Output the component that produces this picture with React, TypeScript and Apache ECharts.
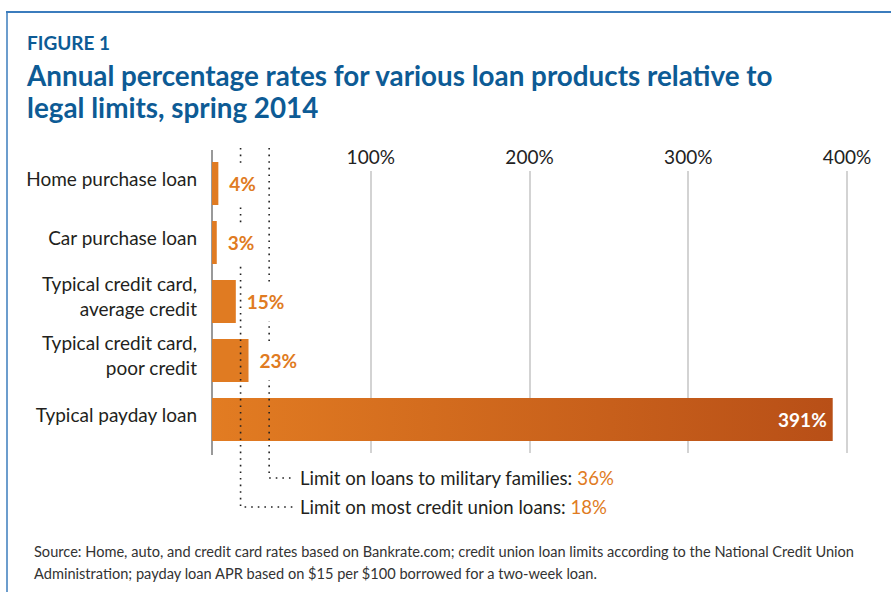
import React, { useEffect, useRef } from "react";
import * as echarts from "echarts";

const categories = [
  "Home purchase loan",
  "Car purchase loan",
  "Typical credit card,\naverage credit",
  "Typical credit card,\npoor credit",
  "Typical payday loan",
];
const aprValues = [4, 3, 15, 23, 391];
const tickValues = [100, 200, 300, 400];
const limitValues = [36, 18];
const limitTexts = ["Limit on loans to military families: ", "Limit on most credit union loans: "];
const limitLabels = ["36%", "18%"];
const figureLabel = "FIGURE 1";
const titleLines = [
  "Annual percentage rates for various loan products relative to",
  "legal limits, spring 2014",
];
const sourceLines = [
  "Source: Home, auto, and credit card rates based on Bankrate.com; credit union loan limits according to the National Credit Union",
  "Administration; payday loan APR based on $15 per $100 borrowed for a two-week loan.",
];

const FONT = "Lato";
const ORANGE = "#e07b22";
const BLUE = "#0d5b95";

export default function App() {
  const ref = useRef<HTMLDivElement>(null);
  useEffect(() => {
    if (!ref.current) return;
    const chart = echarts.init(ref.current, undefined, { renderer: "svg" });
    const lastIdx = aprValues.length - 1;
    const payGradient = new echarts.graphic.LinearGradient(0, 0, 1, 0, [
      { offset: 0, color: "#e27c22" },
      { offset: 1, color: "#b84f17" },
    ]);
    chart.setOption({
      animation: false,
      textStyle: { fontFamily: FONT },
      grid: { left: 212, right: 44, top: 154, height: 295 },
      xAxis: {
        type: "value",
        position: "top",
        min: 0,
        max: 400,
        interval: 100,
        axisLine: { show: false },
        axisTick: { show: false },
        splitLine: { show: false },
        axisLabel: {
          margin: -12,
          fontSize: 19,
          color: "#222",
          fontFamily: FONT,
          formatter: (v: number) => (tickValues.includes(v) ? v + "%" : ""),
        },
      },
      yAxis: {
        type: "category",
        inverse: true,
        data: categories,
        axisLine: { show: false },
        axisTick: { show: false },
        axisLabel: {
          margin: 15,
          color: "#231f20",
          align: "right",
          formatter: (v: string) =>
            v
              .split("\n")
              .map((l) => "{t|" + l + "}")
              .join("\n") + "\n{s| }",
          rich: {
            t: { fontSize: 19, lineHeight: 25, fontFamily: FONT, color: "#231f20", align: "right" },
            s: { fontSize: 2, lineHeight: 11, align: "right" },
          },
        },
      },
      series: [
        {
          type: "bar",
          z: 1,
          barWidth: 43,
          data: aprValues.map((v, i) => ({
            value: v,
            itemStyle: { color: i === lastIdx ? payGradient : ORANGE },
          })),
        },
        {
          type: "bar",
          z: 3,
          barWidth: 43,
          barGap: "-100%",
          itemStyle: { color: "rgba(0,0,0,0)" },
          data: aprValues.map((v, i) => ({
            value: v,
            label:
              i === lastIdx
                ? {
                    show: true,
                    position: "insideRight",
                    distance: 6,
                    color: "#fff",
                    fontWeight: "bold",
                    fontSize: 19,
                    fontFamily: FONT,
                    formatter: "{c}%",
                  }
                : {
                    show: true,
                    position: "right",
                    distance: 8,
                    color: ORANGE,
                    fontWeight: "bold",
                    fontSize: 19,
                    fontFamily: FONT,
                    backgroundColor: "#fff",
                    padding: [10, 3],
                    formatter: "{c}%",
                  },
          })),
        },
      ],
    });

    const xp = (v: number) => chart.convertToPixel({ xAxisIndex: 0 }, v) as number;
    const x0 = xp(0);
    const elements: any[] = [];
    // frame
    elements.push({
      type: "line",
      z: 0,
      shape: { x1: 6, y1: 12, x2: 891, y2: 12 },
      style: { stroke: "#3b7cbd", lineWidth: 2 },
    });
    elements.push({
      type: "line",
      z: 0,
      shape: { x1: 7, y1: 12, x2: 7, y2: 592 },
      style: { stroke: "#3b7cbd", lineWidth: 1.5 },
    });
    // grid lines
    tickValues.forEach((t) => {
      const x = Math.round(xp(t));
      elements.push({
        type: "line",
        z: 0,
        shape: { x1: x, y1: 171, x2: x, y2: 453 },
        style: { stroke: "#d3d3d3", lineWidth: 2 },
      });
    });
    // axis line
    elements.push({
      type: "line",
      z: 0,
      shape: { x1: x0, y1: 150, x2: x0, y2: 455 },
      style: { stroke: "#777", lineWidth: 1.5 },
    });
    // limit dotted lines + annotations
    const annY = [478, 507];
    limitValues.forEach((v, i) => {
      const x = xp(v);
      const y = annY[i];
      elements.push({
        type: "polyline",
        z: 2,
        shape: { points: [[x, 148], [x, y], [293, y]] },
        style: { stroke: "#222", lineWidth: 1.6, lineDash: [1.6, 5], fill: null },
      });
      elements.push({
        type: "text",
        z: 2,
        x: 300,
        y: y,
        style: {
          text: "{a|" + limitTexts[i] + "}{b|" + limitLabels[i] + "}",
          verticalAlign: "middle",
          rich: {
            a: { fontSize: 18.6, fontFamily: FONT, fill: "#231f20" },
            b: { fontSize: 18.6, fontFamily: FONT, fill: ORANGE },
          },
        },
      });
    });
    // header texts
    elements.push({
      type: "text",
      x: 27,
      y: 42,
      style: {
        text: figureLabel,
        fontSize: 19,
        fontWeight: "bold",
        fontFamily: FONT,
        fill: BLUE,
        verticalAlign: "middle",
      },
    });
    titleLines.forEach((t, i) => {
      elements.push({
        type: "text",
        x: 27,
        y: 75 + i * 32,
        style: {
          text: t,
          fontSize: 27.8,
          fontWeight: "bold",
          fontFamily: FONT,
          fill: BLUE,
          verticalAlign: "middle",
        },
      });
    });
    sourceLines.forEach((t, i) => {
      elements.push({
        type: "text",
        x: 34,
        y: 551 + i * 22,
        style: {
          text: t,
          fontSize: 14.6,
          fontFamily: FONT,
          fill: "#333",
          verticalAlign: "middle",
        },
      });
    });
    chart.setOption({ graphic: { elements } });
    return () => chart.dispose();
  }, []);
  return (
    <div
      ref={ref}
      style={{ position: "fixed", left: 0, top: 0, width: 891, height: 592, background: "#fff" }}
    />
  );
}
